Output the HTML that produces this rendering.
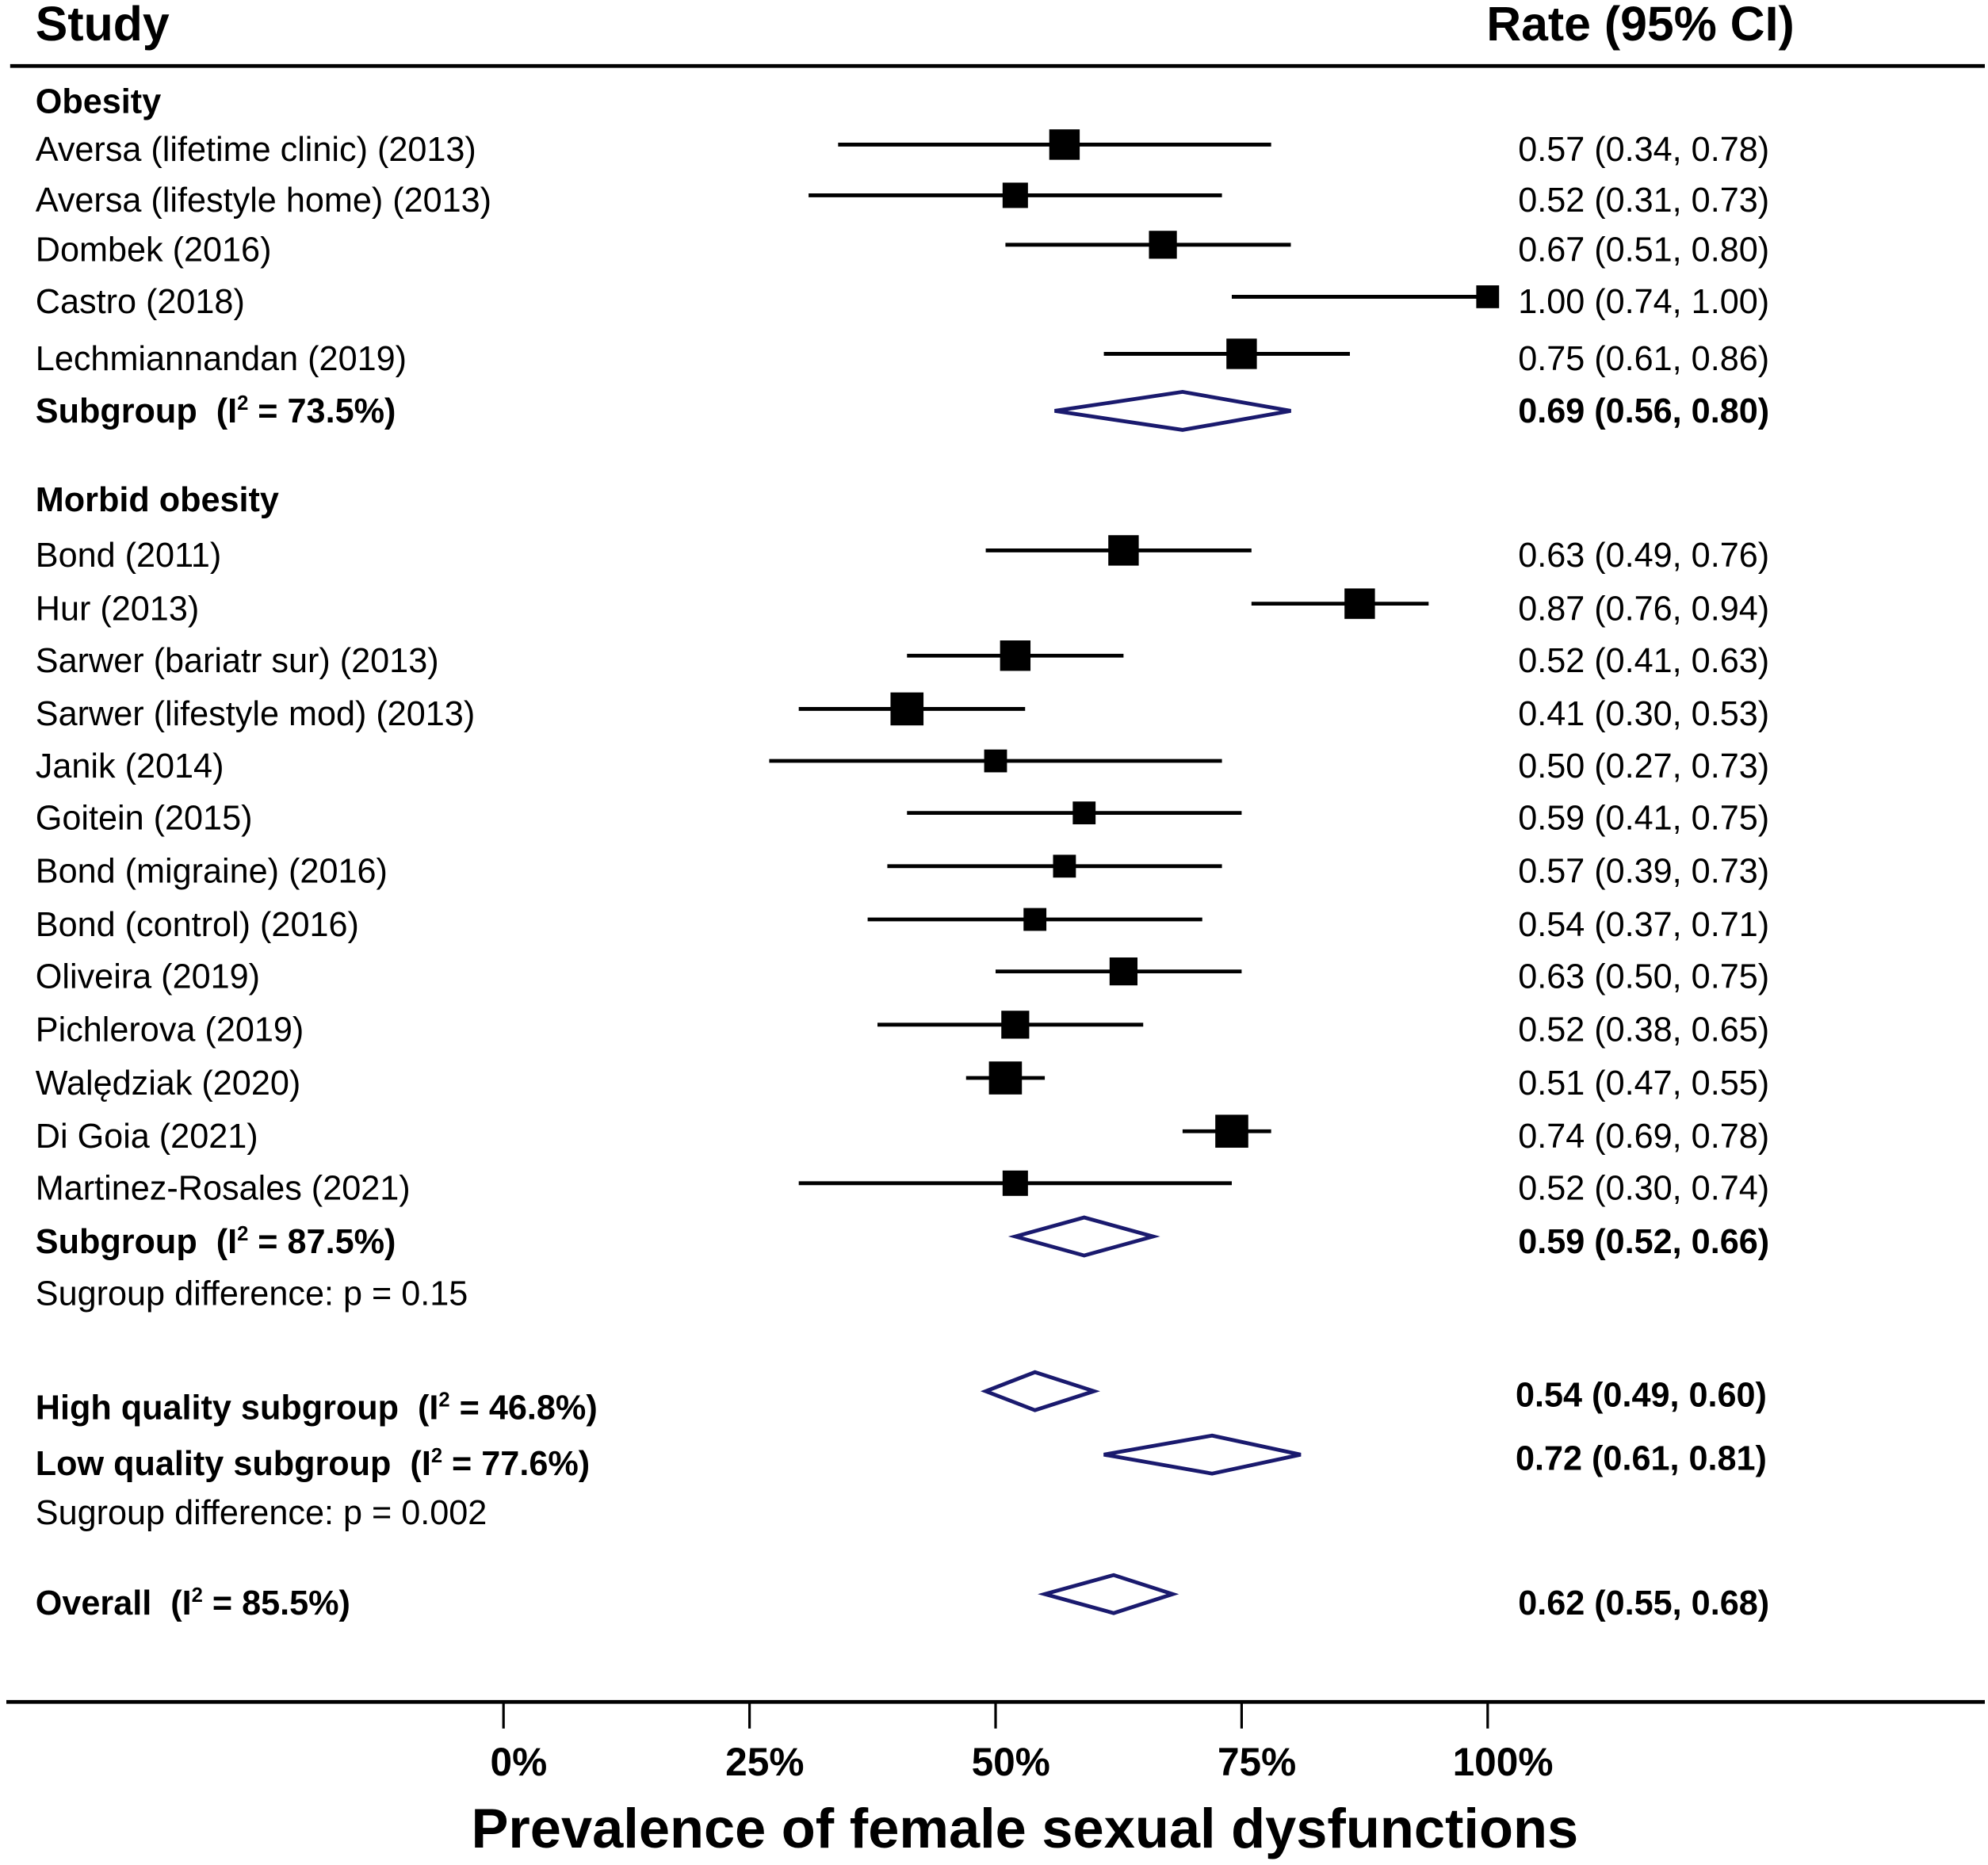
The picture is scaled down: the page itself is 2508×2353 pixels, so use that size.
<!DOCTYPE html>
<html><head><meta charset="utf-8"><style>
html,body{margin:0;padding:0;background:#fff}
svg{display:block}
text{font-family:"Liberation Sans",sans-serif;fill:#000}
</style></head><body>
<svg id="chart" width="2508" height="2353" viewBox="0 0 1567.5 1470.6" xmlns="http://www.w3.org/2000/svg">
<text x="28" y="32" font-size="38" font-weight="bold">Study</text>
<text x="1172" y="32" font-size="38" font-weight="bold">Rate (95% CI)</text>
<line x1="8" y1="52" x2="1565" y2="52" stroke="#000" stroke-width="3"/>
<text x="28" y="89" font-size="27" font-weight="bold">Obesity</text>
<text x="28" y="403" font-size="27" font-weight="bold">Morbid obesity</text>
<text x="28" y="1029" font-size="27">Sugroup difference: p = 0.15</text>
<text x="28" y="1202" font-size="27">Sugroup difference: p = 0.002</text>
<g id="rows"></g>
<line x1="5" y1="1342" x2="1565" y2="1342" stroke="#000" stroke-width="3"/>
<g id="axis"></g>
<text x="808" y="1457" font-size="44" font-weight="bold" text-anchor="middle">Prevalence of female sexual dysfunctions</text>
</svg>
<script>
const studyLabels=["Aversa (lifetime clinic) (2013)","Aversa (lifestyle home) (2013)","Dombek (2016)","Castro (2018)","Lechmiannandan (2019)","Bond (2011)","Hur (2013)","Sarwer (bariatr sur) (2013)","Sarwer (lifestyle mod) (2013)","Janik (2014)","Goitein (2015)","Bond (migraine) (2016)","Bond (control) (2016)","Oliveira (2019)","Pichlerova (2019)","Walędziak (2020)","Di Goia (2021)","Martinez-Rosales (2021)"];
const studyRates=[0.57,0.52,0.67,1.00,0.75,0.63,0.87,0.52,0.41,0.50,0.59,0.57,0.54,0.63,0.52,0.51,0.74,0.52];
const studyLow=[0.34,0.31,0.51,0.74,0.61,0.49,0.76,0.41,0.30,0.27,0.41,0.39,0.37,0.50,0.38,0.47,0.69,0.30];
const studyHigh=[0.78,0.73,0.80,1.00,0.86,0.76,0.94,0.63,0.53,0.73,0.75,0.73,0.71,0.75,0.65,0.55,0.78,0.74];
const studyWeights=[24,20,22,18,24,24,24,24,26,18,18,18,18,22,22,26,26,20];
const studyRowY=[118,158,197,238,283,438,480,521,563,604,645,687,729,770,812,854,896,937];
const poolLabels=["Subgroup","Subgroup","High quality subgroup","Low quality subgroup","Overall"];
const poolI2=["73.5%","87.5%","46.8%","77.6%","85.5%"];
const poolRates=[0.69,0.59,0.54,0.72,0.62];
const poolLow=[0.56,0.52,0.49,0.61,0.55];
const poolHigh=[0.80,0.66,0.60,0.81,0.68];
const poolRowY=[324,979,1110,1154,1264];
const poolDiamondY=[324,975,1097,1147,1257];
const tickValues=[0,0.25,0.5,0.75,1];
const tickLabels=["0%","25%","50%","75%","100%"];

const NS="http://www.w3.org/2000/svg";
const x0=397,x1=1173;
function xs(v){return x0+(x1-x0)*v;}
function mk(tag,attrs,parent){const e=document.createElementNS(NS,tag);for(const k in attrs)e.setAttribute(k,attrs[k]);parent.appendChild(e);return e;}
const rows=document.getElementById('rows');
const f=v=>v.toFixed(2);
studyLabels.forEach((lab,i)=>{
  const y=studyRowY[i];
  const t=mk('text',{x:28,y:y+9,'font-size':27},rows);t.textContent=lab;
  
  
  const l=mk('line',{x1:xs(studyLow[i]),x2:xs(studyHigh[i]),y1:y-4,y2:y-4,stroke:'#000','stroke-width':3},rows);
  
  
  const s=studyWeights[i];
  const r=mk('rect',{x:xs(studyRates[i])-s/2,y:y-4-s/2,width:s,height:s,fill:'#000'},rows);
  
  
  const v=mk('text',{x:1197,y:y+9,'font-size':27},rows);v.textContent=f(studyRates[i])+" ("+f(studyLow[i])+", "+f(studyHigh[i])+")";
  
  
});
poolLabels.forEach((lab,i)=>{
  const y=poolRowY[i];
  const t=mk('text',{x:28,y:y+9,'font-size':27,'font-weight':'bold'},rows);
  
  
  const a=mk('tspan',{},t);a.textContent=lab+"\u00a0\u00a0(I";
  const b=mk('tspan',{'font-size':16,dy:-10},t);b.textContent="2";
  const c=mk('tspan',{dy:10},t);c.textContent=" = "+poolI2[i]+")";
  const dy=poolDiamondY[i];
  const p=mk('polygon',{points:`${xs(poolLow[i])},${dy} ${xs(poolRates[i])},${dy-15} ${xs(poolHigh[i])},${dy} ${xs(poolRates[i])},${dy+15}`,fill:'none',stroke:'#1a1a6e','stroke-width':3},rows);
  
  
  const v=mk('text',{x:(i==2||i==3)?1195:1197,y:(i==2||i==3)?dy+12:y+9,'font-size':27,'font-weight':'bold'},rows);
  v.textContent=f(poolRates[i])+" ("+f(poolLow[i])+", "+f(poolHigh[i])+")";
  
  
});
const axis=document.getElementById('axis');
tickValues.forEach((tv,i)=>{
  const l=mk('line',{x1:xs(tv),x2:xs(tv),y1:1342,y2:1363,stroke:'#000','stroke-width':2},axis);
  
  
  const t=mk('text',{x:xs(tv)+12,y:1400,'font-size':31,'font-weight':'bold','text-anchor':'middle'},axis);
  t.textContent=tickLabels[i];
  
  
});
</script>
</body></html>
